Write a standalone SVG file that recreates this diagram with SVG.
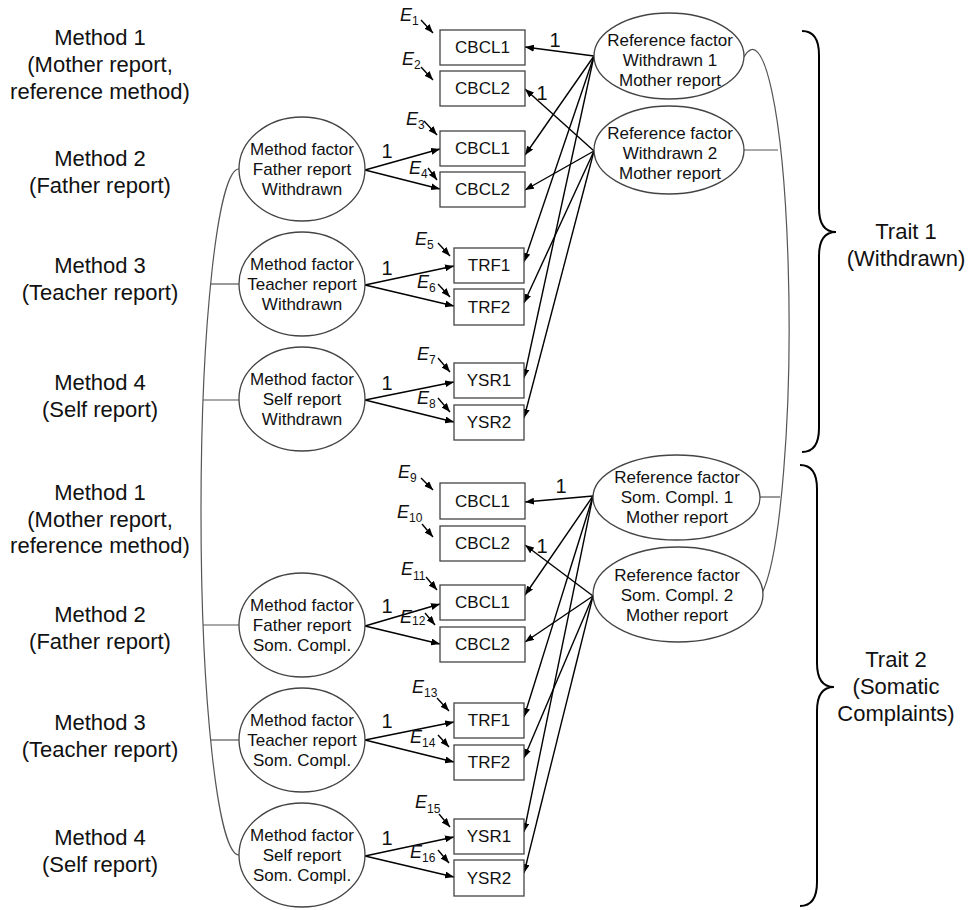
<svg xmlns="http://www.w3.org/2000/svg" width="974" height="910" viewBox="0 0 974 910">
<defs>
<marker id="ah" viewBox="0 0 9 7" refX="9" refY="3.5" markerWidth="9" markerHeight="7" orient="auto" markerUnits="userSpaceOnUse"><path d="M0,0 L9,3.5 L0,7 z" fill="#000"/></marker>
<style>
text{font-family:"Liberation Sans",Arial,sans-serif;fill:#111}
.lbl{font-size:22px;text-anchor:middle}
.nt{font-size:17px;text-anchor:middle}
.one{font-size:20px;text-anchor:middle}
.e{font-size:18px;font-style:italic}
.sub{font-size:12px;font-style:normal}
rect{fill:#fff;stroke:#444;stroke-width:1.3}
ellipse{fill:#fff;stroke:#444;stroke-width:1.3}
.ar{stroke:#000;stroke-width:1.4;fill:none;marker-end:url(#ah)}
.cv{stroke:#555;stroke-width:1.2;fill:none}
.br{stroke:#000;stroke-width:2;fill:none}
</style>
</defs>
<rect x="0" y="0" width="974" height="910" style="fill:#fff;stroke:none"/>

<g id="method-labels">
<text class="lbl" x="100" y="45">Method 1</text>
<text class="lbl" x="100" y="72">(Mother report,</text>
<text class="lbl" x="100" y="99">reference method)</text>
<text class="lbl" x="100" y="166">Method 2</text>
<text class="lbl" x="100" y="193">(Father report)</text>
<text class="lbl" x="100" y="273">Method 3</text>
<text class="lbl" x="100" y="300">(Teacher report)</text>
<text class="lbl" x="100" y="390">Method 4</text>
<text class="lbl" x="100" y="417">(Self report)</text>
<text class="lbl" x="100" y="500">Method 1</text>
<text class="lbl" x="100" y="527">(Mother report,</text>
<text class="lbl" x="100" y="553">reference method)</text>
<text class="lbl" x="100" y="622">Method 2</text>
<text class="lbl" x="100" y="649">(Father report)</text>
<text class="lbl" x="100" y="730">Method 3</text>
<text class="lbl" x="100" y="757">(Teacher report)</text>
<text class="lbl" x="100" y="845">Method 4</text>
<text class="lbl" x="100" y="872">(Self report)</text>
</g>

<g id="connectors">
<path class="cv" d="M239,169 A38,343 0 0 0 239,855"/>
<line class="cv" x1="211" y1="284" x2="239" y2="284"/>
<line class="cv" x1="203" y1="400" x2="239" y2="400"/>
<line class="cv" x1="203" y1="625" x2="239" y2="625"/>
<line class="cv" x1="211" y1="740" x2="239" y2="740"/>
<path class="cv" d="M744,57 A36,272 0 0 1 761,595"/>
<line class="cv" x1="744" y1="150" x2="778" y2="150"/>
<line class="cv" x1="760" y1="497" x2="780" y2="497"/>

<line class="ar" x1="594" y1="56" x2="525" y2="47"/>
<line class="ar" x1="594" y1="56" x2="525" y2="155"/>
<line class="ar" x1="594" y1="56" x2="524" y2="262"/>
<line class="ar" x1="594" y1="56" x2="524" y2="378"/>
<line class="ar" x1="594" y1="151" x2="525" y2="89"/>
<line class="ar" x1="594" y1="151" x2="525" y2="190"/>
<line class="ar" x1="594" y1="151" x2="524" y2="303"/>
<line class="ar" x1="594" y1="151" x2="524" y2="418"/>
<line class="ar" x1="593" y1="496" x2="525" y2="502"/>
<line class="ar" x1="593" y1="496" x2="525" y2="595"/>
<line class="ar" x1="593" y1="496" x2="524" y2="717"/>
<line class="ar" x1="593" y1="496" x2="524" y2="832"/>
<line class="ar" x1="593" y1="596" x2="525" y2="545"/>
<line class="ar" x1="593" y1="596" x2="525" y2="642"/>
<line class="ar" x1="593" y1="596" x2="524" y2="758"/>
<line class="ar" x1="593" y1="596" x2="524" y2="873"/>

<line class="ar" x1="365" y1="170" x2="440" y2="149"/>
<line class="ar" x1="365" y1="170" x2="440" y2="189"/>
<line class="ar" x1="365" y1="285" x2="454" y2="266"/>
<line class="ar" x1="365" y1="285" x2="454" y2="306"/>
<line class="ar" x1="365" y1="400" x2="454" y2="382"/>
<line class="ar" x1="365" y1="400" x2="454" y2="422"/>
<line class="ar" x1="365" y1="626" x2="440" y2="604"/>
<line class="ar" x1="365" y1="626" x2="440" y2="644"/>
<line class="ar" x1="365" y1="740" x2="454" y2="722"/>
<line class="ar" x1="365" y1="740" x2="454" y2="762"/>
<line class="ar" x1="365" y1="856" x2="454" y2="837"/>
<line class="ar" x1="365" y1="856" x2="454" y2="877"/>

<line class="ar" x1="421" y1="20" x2="433" y2="33"/>
<line class="ar" x1="421" y1="67" x2="433" y2="80"/>
<line class="ar" x1="424" y1="121" x2="437" y2="135"/>
<line class="ar" x1="428" y1="168" x2="437" y2="180"/>
<line class="ar" x1="438" y1="243" x2="450" y2="256"/>
<line class="ar" x1="438" y1="284" x2="450" y2="297"/>
<line class="ar" x1="438" y1="358" x2="450" y2="372"/>
<line class="ar" x1="438" y1="398" x2="450" y2="412"/>
<line class="ar" x1="421" y1="478" x2="433" y2="490"/>
<line class="ar" x1="422" y1="524" x2="433" y2="537"/>
<line class="ar" x1="426" y1="577" x2="437" y2="590"/>
<line class="ar" x1="425" y1="613" x2="435" y2="625"/>
<line class="ar" x1="437" y1="698" x2="449" y2="711"/>
<line class="ar" x1="438" y1="735" x2="449" y2="747"/>
<line class="ar" x1="439" y1="814" x2="450" y2="827"/>
<line class="ar" x1="438" y1="850" x2="449" y2="863"/>

<text class="one" x="555" y="47">1</text>
<text class="one" x="542" y="100">1</text>
<text class="one" x="561" y="493">1</text>
<text class="one" x="542" y="553">1</text>
<text class="one" x="387" y="158">1</text>
<text class="one" x="387" y="275">1</text>
<text class="one" x="387" y="390">1</text>
<text class="one" x="387" y="613">1</text>
<text class="one" x="387" y="728">1</text>
<text class="one" x="387" y="845">1</text>
</g>

<g id="errors">
<text class="e" x="400" y="21">E<tspan class="sub" dy="4">1</tspan></text>
<text class="e" x="402" y="65">E<tspan class="sub" dy="4">2</tspan></text>
<text class="e" x="406" y="125">E<tspan class="sub" dy="4">3</tspan></text>
<text class="e" x="409" y="174">E<tspan class="sub" dy="4">4</tspan></text>
<text class="e" x="415" y="245">E<tspan class="sub" dy="4">5</tspan></text>
<text class="e" x="417" y="288">E<tspan class="sub" dy="4">6</tspan></text>
<text class="e" x="417" y="360">E<tspan class="sub" dy="4">7</tspan></text>
<text class="e" x="417" y="404">E<tspan class="sub" dy="4">8</tspan></text>
<text class="e" x="398" y="478">E<tspan class="sub" dy="4">9</tspan></text>
<text class="e" x="397" y="518">E<tspan class="sub" dy="4">10</tspan></text>
<text class="e" x="401" y="575">E<tspan class="sub" dy="5">11</tspan></text>
<text class="e" x="400" y="623">E<tspan class="sub" dy="2">12</tspan></text>
<text class="e" x="412" y="693">E<tspan class="sub" dy="4">13</tspan></text>
<text class="e" x="410" y="743">E<tspan class="sub" dy="4">14</tspan></text>
<text class="e" x="415" y="808">E<tspan class="sub" dy="5">15</tspan></text>
<text class="e" x="410" y="858">E<tspan class="sub" dy="4">16</tspan></text>
</g>

<g id="box-cbcl1-m-w"><rect x="440" y="30" width="85" height="35"/><text class="nt" x="482.5" y="53">CBCL1</text></g>
<g id="box-cbcl2-m-w"><rect x="440" y="71" width="85" height="35"/><text class="nt" x="482.5" y="94">CBCL2</text></g>
<g id="box-cbcl1-f-w"><rect x="440" y="131" width="85" height="35"/><text class="nt" x="482.5" y="154">CBCL1</text></g>
<g id="box-cbcl2-f-w"><rect x="440" y="172" width="85" height="35"/><text class="nt" x="482.5" y="195">CBCL2</text></g>
<g id="box-trf1-w"><rect x="454" y="248" width="70" height="35"/><text class="nt" x="489" y="271">TRF1</text></g>
<g id="box-trf2-w"><rect x="454" y="289" width="70" height="36"/><text class="nt" x="489" y="313">TRF2</text></g>
<g id="box-ysr1-w"><rect x="454" y="363" width="70" height="35"/><text class="nt" x="489" y="386">YSR1</text></g>
<g id="box-ysr2-w"><rect x="454" y="405" width="70" height="35"/><text class="nt" x="489" y="428">YSR2</text></g>
<g id="box-cbcl1-m-s"><rect x="440" y="483" width="85" height="36"/><text class="nt" x="482.5" y="507">CBCL1</text></g>
<g id="box-cbcl2-m-s"><rect x="440" y="526" width="85" height="35"/><text class="nt" x="482.5" y="549">CBCL2</text></g>
<g id="box-cbcl1-f-s"><rect x="440" y="585" width="85" height="35"/><text class="nt" x="482.5" y="608">CBCL1</text></g>
<g id="box-cbcl2-f-s"><rect x="440" y="627" width="85" height="35"/><text class="nt" x="482.5" y="650">CBCL2</text></g>
<g id="box-trf1-s"><rect x="454" y="703" width="70" height="35"/><text class="nt" x="489" y="726">TRF1</text></g>
<g id="box-trf2-s"><rect x="454" y="745" width="70" height="35"/><text class="nt" x="489" y="768">TRF2</text></g>
<g id="box-ysr1-s"><rect x="454" y="819" width="70" height="35"/><text class="nt" x="489" y="842">YSR1</text></g>
<g id="box-ysr2-s"><rect x="454" y="860" width="70" height="36"/><text class="nt" x="489" y="884">YSR2</text></g>

<g id="mf-father-w"><ellipse cx="302" cy="169" rx="63" ry="52"/><text class="nt" x="302" y="155">Method factor</text><text class="nt" x="302" y="175">Father report</text><text class="nt" x="302" y="195">Withdrawn</text></g>
<g id="mf-teacher-w"><ellipse cx="302" cy="284" rx="63" ry="52"/><text class="nt" x="302" y="270">Method factor</text><text class="nt" x="302" y="290">Teacher report</text><text class="nt" x="302" y="310">Withdrawn</text></g>
<g id="mf-self-w"><ellipse cx="302" cy="399" rx="63" ry="52"/><text class="nt" x="302" y="385">Method factor</text><text class="nt" x="302" y="405">Self report</text><text class="nt" x="302" y="425">Withdrawn</text></g>
<g id="mf-father-s"><ellipse cx="302" cy="625" rx="63" ry="52"/><text class="nt" x="302" y="611">Method factor</text><text class="nt" x="302" y="631">Father report</text><text class="nt" x="302" y="651">Som. Compl.</text></g>
<g id="mf-teacher-s"><ellipse cx="302" cy="740" rx="63" ry="52"/><text class="nt" x="302" y="726">Method factor</text><text class="nt" x="302" y="746">Teacher report</text><text class="nt" x="302" y="766">Som. Compl.</text></g>
<g id="mf-self-s"><ellipse cx="302" cy="855" rx="63" ry="52"/><text class="nt" x="302" y="841">Method factor</text><text class="nt" x="302" y="861">Self report</text><text class="nt" x="302" y="881">Som. Compl.</text></g>

<g id="rf-w1"><ellipse cx="669" cy="56" rx="75" ry="43"/><text class="nt" x="670" y="46">Reference factor</text><text class="nt" x="670" y="66">Withdrawn 1</text><text class="nt" x="670" y="86">Mother report</text></g>
<g id="rf-w2"><ellipse cx="669" cy="150" rx="75" ry="44"/><text class="nt" x="670" y="139">Reference factor</text><text class="nt" x="670" y="159">Withdrawn 2</text><text class="nt" x="670" y="179">Mother report</text></g>
<g id="rf-s1"><ellipse cx="676.5" cy="497.5" rx="83.5" ry="42.5"/><text class="nt" x="677" y="483">Reference factor</text><text class="nt" x="677" y="503">Som. Compl. 1</text><text class="nt" x="677" y="523">Mother report</text></g>
<g id="rf-s2"><ellipse cx="678" cy="594.5" rx="85" ry="47.5"/><text class="nt" x="677" y="581">Reference factor</text><text class="nt" x="677" y="601">Som. Compl. 2</text><text class="nt" x="677" y="621">Mother report</text></g>

<g id="trait1">
<path class="br" d="M802,31 Q819,31 819,55 L819,208 Q819,232 836,232 Q819,232 819,256 L819,428 Q819,452 802,452"/>
<text class="lbl" x="906" y="239">Trait 1</text>
<text class="lbl" x="906" y="266">(Withdrawn)</text>
</g>
<g id="trait2">
<path class="br" d="M800,465 Q817,465 817,489 L817,663 Q817,687 834,687 Q817,687 817,711 L817,882 Q817,906 800,906"/>
<text class="lbl" x="896" y="667">Trait 2</text>
<text class="lbl" x="896" y="694">(Somatic</text>
<text class="lbl" x="896" y="721">Complaints)</text>
</g>
</svg>
